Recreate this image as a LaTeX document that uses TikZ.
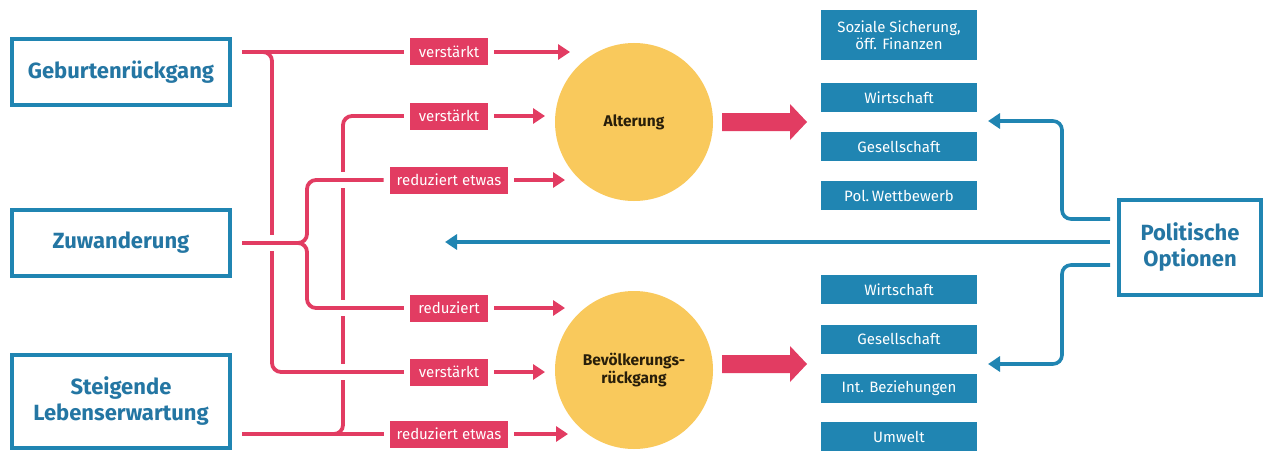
\documentclass[tikz,border=0pt]{standalone}
\usepackage{fontspec}
\setmainfont{Fira Sans}
\usetikzlibrary{arrows.meta}
\definecolor{pinkc}{RGB}{226,60,98}
\definecolor{bluec}{RGB}{32,133,178}
\definecolor{bluet}{RGB}{36,118,163}
\definecolor{yellowc}{RGB}{249,201,92}
\definecolor{darkt}{RGB}{40,30,10}
\tikzset{
  srcbox/.style={draw=bluec, line width=4pt, text=bluet, font=\bfseries\fontsize{22}{26}\selectfont, align=center, minimum width=218pt, inner sep=0pt},
  lbl/.style={fill=pinkc, text=white, font=\fontsize{15}{17}\selectfont, minimum height=27pt, minimum width=78pt, inner xsep=7pt, inner ysep=0pt},
  tgt/.style={fill=bluec, text=white, font=\fontsize{15}{17}\selectfont, minimum width=156pt, minimum height=29pt, align=center, inner sep=0pt},
  circ/.style={circle, fill=yellowc, minimum size=158pt, inner sep=0pt, text=darkt, font=\bfseries\fontsize{15.5}{18.5}\selectfont, align=center},
  pline/.style={draw=pinkc, line width=3.8pt, rounded corners=9pt},
  parrow/.style={draw=pinkc, line width=3.8pt, -{Triangle[length=12pt,width=15pt]}},
  bline/.style={draw=bluec, line width=3.6pt, rounded corners=9pt, -{Triangle[length=12pt,width=15pt]}},
  gapw/.style={draw=white, line width=7pt},
  gapp/.style={draw=pinkc, line width=3.8pt}
}
\begin{document}
\begin{tikzpicture}[x=1pt,y=-1pt]
\useasboundingbox[fill=white] (0,0) rectangle (1271,452);

% source boxes
\node[srcbox, minimum height=66pt] (G) at (121,72) {Geburtenrückgang};
\node[srcbox, minimum height=66pt] (Z) at (121,243) {Zuwanderung};
\node[srcbox, minimum height=93pt] (L) at (121,401.5) {Steigende\\Lebenserwartung};

% circles
\node[circ] (Alt) at (634,122) {Alterung};
\node[circ] (Bev) at (634,370) {Bevölkerungs-\\rückgang};

% labels
\node[lbl] (l1) at (449,52) {verstärkt};
\node[lbl] (l2) at (449,116) {verstärkt};
\node[lbl] (l3) at (449,180) {reduziert etwas};
\node[lbl] (l4) at (449,308) {reduziert};
\node[lbl] (l5) at (449,372) {verstärkt};
\node[lbl] (l6) at (449,434) {reduziert etwas};

% target boxes
\node[tgt, minimum height=50pt] (r1) at (899,35) {Soziale Sicherung,\\öff. Finanzen};
\node[tgt] (r2) at (899,97.5) {Wirtschaft};
\node[tgt] (r3) at (899,146.5) {Gesellschaft};
\node[tgt] (r4) at (899,195.5) {Pol.\,Wettbewerb};
\node[tgt] (r5) at (899,289.5) {Wirtschaft};
\node[tgt] (r6) at (899,339) {Gesellschaft};
\node[tgt] (r7) at (899,388.5) {Int. Beziehungen};
\node[tgt] (r8) at (899,436.5) {Umwelt};

% political options
\node[srcbox, minimum width=142pt, minimum height=95pt] (P) at (1190,247.5) {Politische\\Optionen};

% coordinates
\coordinate (gs) at (242,52);
\coordinate (zs) at (242,243);
\coordinate (ls) at (242,434);
\coordinate (cG) at (272,0);
\coordinate (cZ) at (307,0);
\coordinate (cL) at (343,0);
\coordinate (a1) at (570,52);
\coordinate (a2) at (545,116);
\coordinate (a3) at (565,180);
\coordinate (a4) at (565,308);
\coordinate (a5) at (545,372);
\coordinate (a6) at (568,434);

% pink connectors
\draw[pline, shorten >=6pt] (gs) -- (l1.west);
\draw[pline, shorten >=6pt] (gs) -- (gs -| cG) -- (cG |- l5) -- (l5.west);
\draw[pline, shorten >=6pt] (zs) -- (zs -| cZ) -- (cZ |- l3) -- (l3.west);
\draw[pline, shorten >=6pt] (zs) -- (zs -| cZ) -- (cZ |- l4) -- (l4.west);
\draw[pline, shorten >=6pt] (ls) -- (l6.west);
\draw[pline, shorten >=6pt] (ls) -- (ls -| cL) -- (cL |- l2) -- (l2.west);

% crossings
\foreach \p in {cG |- zs, cL |- l3, cL |- l4, cL |- l5}{
  \draw[gapw] ([yshift=8pt]\p) -- ([yshift=-8pt]\p);
  \draw[gapp] ([xshift=-8pt]\p) -- ([xshift=8pt]\p);
}

\draw[parrow, shorten <=6pt] (l1.east) -- (a1);
\draw[parrow, shorten <=6pt] (l2.east) -- (a2);
\draw[parrow, shorten <=6pt] (l3.east) -- (a3);
\draw[parrow, shorten <=6pt] (l4.east) -- (a4);
\draw[parrow, shorten <=6pt] (l5.east) -- (a5);
\draw[parrow, shorten <=6pt] (l6.east) -- (a6);

% big arrows
\coordinate (bA) at (722,122);
\coordinate (bB) at (722,364);
\fill[pinkc] (bA) ++(0,-9) -- ++(68,0) -- ++(0,-9) -- ++(17,18) -- ++(-17,18) -- ++(0,-9) -- ++(-68,0) -- cycle;
\fill[pinkc] (bB) ++(0,-9) -- ++(68,0) -- ++(0,-9) -- ++(17,18) -- ++(-17,18) -- ++(0,-9) -- ++(-68,0) -- cycle;

% blue connectors
\coordinate (ps1) at (1110,219);
\coordinate (ps2) at (1110,242);
\coordinate (ps3) at (1110,265);
\coordinate (cP) at (1062,0);
\coordinate (bt1) at (988,121);
\coordinate (bt2) at (445,242);
\coordinate (bt3) at (988,364);
\draw[bline] (ps1) -- (ps1 -| cP) -- (cP |- bt1) -- (bt1);
\draw[bline] (ps2) -- (bt2);
\draw[bline] (ps3) -- (ps3 -| cP) -- (cP |- bt3) -- (bt3);
\end{tikzpicture}
\end{document}
